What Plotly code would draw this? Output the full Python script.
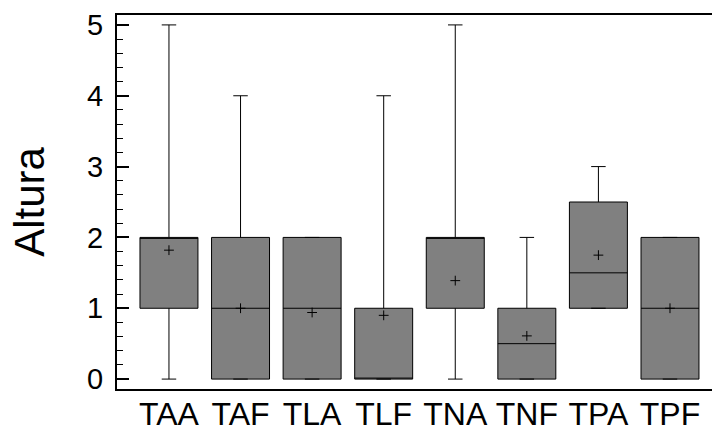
import plotly.graph_objects as go

categories = ["TAA", "TAF", "TLA", "TLF", "TNA", "TNF", "TPA", "TPF"]
q1 = [1, 0, 0, 0, 1, 0, 1, 0]
median = [2, 1, 1, 0, 2, 0.5, 1.5, 1]
q3 = [2, 2, 2, 1, 2, 1, 2.5, 2]
lowerfence = [0, 0, 0, 0, 0, 0, 1, 0]
upperfence = [5, 4, 2, 4, 5, 2, 3, 2]
means = [1.82, 1.0, 0.94, 0.90, 1.39, 0.61, 1.75, 1.0]
y_ticks = [0, 1, 2, 3, 4, 5]

font_family = "Liberation Sans, Arial, sans-serif"

fig = go.Figure()
fig.add_trace(go.Box(
    x=categories, q1=q1, median=median, q3=q3,
    lowerfence=lowerfence, upperfence=upperfence,
    boxpoints=False, fillcolor="#808080",
    line=dict(color="black", width=1),
    whiskerwidth=0.25, width=0.81, showlegend=False,
))
fig.add_trace(go.Scatter(
    x=categories, y=means, mode="markers",
    marker=dict(symbol="cross-thin", size=7, line=dict(color="black", width=1), color="black"),
    showlegend=False,
))

fig.update_layout(
    width=712, height=426,
    margin=dict(l=117, r=0, t=15, b=37, autoexpand=False),
    paper_bgcolor="white", plot_bgcolor="white",
    font=dict(family=font_family, color="black"),
)
fig.update_xaxes(
    type="category", range=[-0.726, 7.587], automargin=False,
    showline=True, linecolor="black", linewidth=2, mirror=True,
    ticks="", showgrid=False, zeroline=False,
    tickfont=dict(size=32), ticklabelstandoff=-4,
)
fig.update_yaxes(
    range=[-0.14, 5.14], tickvals=y_ticks, automargin=False,
    showline=True, linecolor="black", linewidth=2,
    ticks="inside", ticklen=12, tickwidth=1.5, tickcolor="black",
    minor=dict(dtick=0.2, ticks="inside", ticklen=6, tickwidth=1, tickcolor="black", showgrid=False),
    showgrid=False, zeroline=False,
    tickfont=dict(size=29), ticklabelstandoff=6,
    title=dict(text="Altura", font=dict(size=42), standoff=29),
)

fig.write_html(
    "out.html",
    config={"displayModeBar": False},
    post_script="document.body.style.margin='0px';document.body.style.overflow='hidden';",
)
